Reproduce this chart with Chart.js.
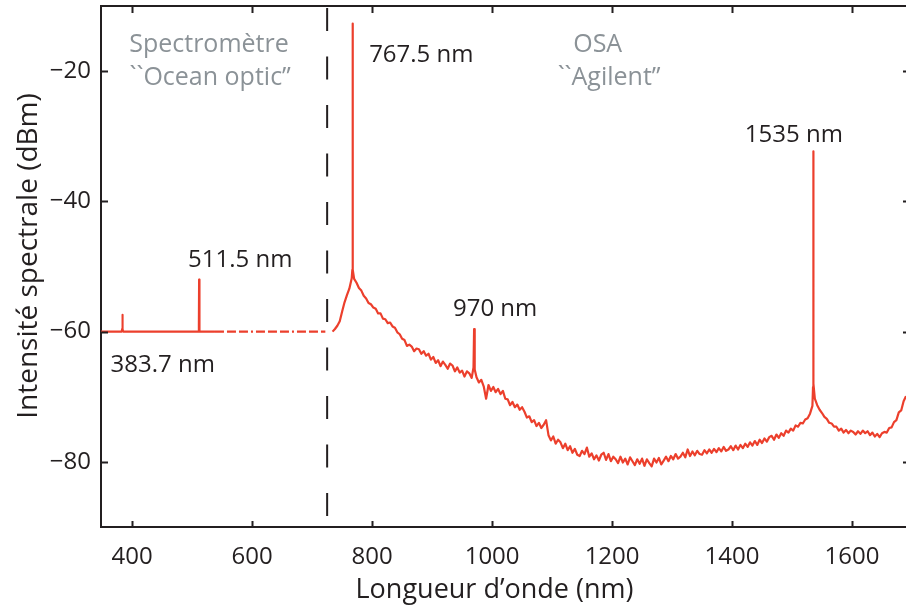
<!DOCTYPE html>
<html>
<head>
<meta charset="utf-8">
<script src="https://cdn.jsdelivr.net/npm/chart.js@4.4.1/dist/chart.umd.min.js"></script>
<style>
  html, body { margin: 0; padding: 0; background: #fff; overflow: hidden; }
</style>
</head>
<body>
<canvas id="myChart" width="906" height="609"></canvas>
<script>
// Axes
const xTicks = [400, 600, 800, 1000, 1200, 1400, 1600];
const yTicks = [-20, -40, -60, -80];

// Spectrometre "Ocean optic" (solid part)
const specWl  = [348, 382.5, 383.2, 383.7, 384.2, 385, 510.5, 511.1, 511.5, 511.9, 512.5, 538];
const specDbm = [-60, -60, -59.6, -57.4, -59.6, -60, -60, -59.2, -52.0, -59.2, -60, -60];

// noise floor extension (dashed)
const extWl  = [538, 722];
const extDbm = [-60, -60];

// OSA "Agilent" trace, sampled every 4 nm from 734 nm
const osaStart = 734;
const osaStep = 4;
const osaDbm = [
  -60.0, -59.6, -59.1, -58.4, -56.9, -55.5, -54.4, -53.4, -51.8, -51.9,
  -52.5, -53.3, -53.7, -54.5, -54.9, -55.6, -55.8, -56.3, -56.5, -57.2,
  -57.2, -58.0, -58.1, -58.7, -58.6, -59.2, -59.4, -60.1, -60.4, -61.1,
  -61.3, -62.2, -62.0, -62.3, -63.0, -62.6, -62.7, -63.4, -63.0, -63.7,
  -63.4, -64.3, -63.9, -64.8, -64.4, -65.3, -64.6, -65.1, -65.7, -64.9,
  -65.2, -66.1, -65.5, -66.3, -66.0, -66.9, -66.1, -66.4, -67.1, -59.6,
  -67.0, -67.8, -67.4, -68.4, -70.3, -68.2, -69.1, -68.5, -69.3, -68.8,
  -69.6, -69.1, -70.3, -70.4, -71.3, -70.8, -71.6, -71.2, -72.0, -71.6,
  -72.3, -73.2, -73.0, -73.9, -73.6, -74.5, -74.0, -74.8, -74.3, -73.6,
  -75.9, -76.7, -76.1, -77.2, -76.6, -77.0, -77.9, -77.2, -78.2, -77.6,
  -78.6, -78.0, -78.9, -79.1, -78.3, -78.8, -77.8, -79.2, -78.7, -79.6,
  -79.0, -79.8, -78.9, -78.6, -79.7, -78.8, -79.9, -79.2, -79.6, -80.2,
  -79.2, -80.1, -79.5, -80.4, -79.3, -79.9, -80.5, -79.6, -80.3, -79.5,
  -80.6, -79.6, -80.2, -80.7, -79.5, -80.1, -79.4, -80.4, -79.8, -79.2,
  -79.9, -79.1, -79.6, -78.8, -79.5, -79.2, -78.6, -79.3, -78.1, -79.1,
  -78.4, -79.0, -78.3, -78.8, -78.9, -78.2, -78.7, -78.1, -78.6, -78.0,
  -78.5, -77.9, -78.4, -77.7, -78.3, -78.1, -77.6, -78.2, -77.5, -78.1,
  -77.4, -77.9, -77.2, -77.7, -77.0, -77.5, -76.8, -77.4, -76.6, -77.1,
  -76.4, -76.9, -76.2, -76.0, -76.6, -75.8, -76.3, -75.6, -76.0, -75.2,
  -75.5, -74.9, -75.2, -74.4, -74.6, -74.0, -74.1, -73.5, -73.3, -72.6,
  -71.4, -70.3, -71.3, -72.0, -72.5, -73.1, -73.4, -74.0, -74.1, -74.6,
  -74.6, -75.2, -74.9, -75.5, -75.1, -75.6, -75.2, -75.4, -75.8, -75.3,
  -75.7, -75.2, -75.6, -75.3, -75.9, -75.5, -76.1, -75.7, -76.2, -75.6,
  -75.4, -75.5, -74.8, -74.7, -73.9, -73.6, -72.4, -72.1, -70.7, -69.9
];
// narrow laser lines on the OSA trace
const osaPeakWl  = [767.0, 767.2, 767.5, 767.8, 768.1, 969, 971, 1535.0, 1535.2, 1535.5, 1535.8, 1536.1];
const osaPeakDbm = [-50.5, -35, -12.7, -35, -50.5, -65.5, -65.8, -68.5, -55, -32.3, -55, -68.0];

// separation between the two instruments
const dividerWl = 725;

// text labels
const labelText = ['767.5 nm', '511.5 nm', '383.7 nm', '970 nm', '1535 nm',
                   'Spectromètre', '``Ocean optic\u201D', 'OSA', '``Agilent\u201D'];
const labelWl   = [882, 580, 451, 1005, 1503, 528, 530, 1176, 1195];
const labelDbm  = [-17.5, -49.0, -65.1, -56.6, -29.8, -16.0, -21.0, -16.0, -21.0];
const labelGray = [false, false, false, false, false, true, true, true, true];

const red = '#ec3f2c';
const ink = '#231f20';
const gray = '#8b9297';
const fontFamily = '"Open Sans", "Noto Sans", sans-serif';

let osaPoints = osaDbm.map((v, i) => ({x: osaStart + i * osaStep, y: v}));
osaPeakWl.forEach((w, i) => osaPoints.push({x: w, y: osaPeakDbm[i]}));
osaPoints.sort((a, b) => a.x - b.x);

const framePlugin = {
    id: 'frame',
    afterDraw(chart) {
        const {ctx, chartArea: a, scales: {x, y}} = chart;
        ctx.save();
        ctx.strokeStyle = ink;
        ctx.lineWidth = 2;
        ctx.beginPath();
        ctx.moveTo(a.left, a.top);
        ctx.lineTo(a.right + 2, a.top);
        xTicks.forEach(v => {
            const px = Math.round(x.getPixelForValue(v)) + 0.5;
            ctx.moveTo(px, a.bottom);
            ctx.lineTo(px, a.bottom - 6);
            ctx.moveTo(px, a.top);
            ctx.lineTo(px, a.top + 7);
        });
        yTicks.forEach(v => {
            const py = Math.round(y.getPixelForValue(v)) + 0.5;
            ctx.moveTo(a.left, py);
            ctx.lineTo(a.left + 7, py);
            ctx.moveTo(a.right + 2, py);
            ctx.lineTo(a.right - 3, py);
        });
        ctx.stroke();

        ctx.textAlign = 'center';
        ctx.textBaseline = 'middle';
        labelText.forEach((t, i) => {
            ctx.font = (labelGray[i] ? '25px ' : '24px ') + fontFamily;
            ctx.fillStyle = labelGray[i] ? gray : ink;
            ctx.fillText(t, x.getPixelForValue(labelWl[i]), y.getPixelForValue(labelDbm[i]));
        });
        ctx.restore();
    }
};

const ctx = document.getElementById('myChart').getContext('2d');
const chart = new Chart(ctx, {
    type: 'line',
    data: {
        datasets: [{
            label: 'Spectromètre',
            data: specWl.map((w, i) => ({x: w, y: specDbm[i]})),
            borderColor: red,
            borderWidth: 2.1
        }, {
            label: 'plancher',
            data: extWl.map((w, i) => ({x: w, y: extDbm[i]})),
            borderColor: red,
            borderWidth: 2.2,
            borderDash: [9, 3, 9, 3, 9, 3, 2, 3]
        }, {
            label: 'OSA',
            data: osaPoints,
            borderColor: red,
            borderWidth: 2.2
        }, {
            label: 'separation',
            data: [{x: dividerWl, y: -10}, {x: dividerWl, y: -90}],
            borderColor: ink,
            borderWidth: 2,
            borderDash: [23, 25.5],
            borderDashOffset: -2
        }]
    },
    options: {
        responsive: false,
        animation: false,
        devicePixelRatio: 1,
        parsing: false,
        elements: {
            point: { radius: 0 },
            line: { tension: 0, borderJoinStyle: 'round' }
        },
        layout: { padding: { top: 6, right: 0, left: 0, bottom: 0 } },
        plugins: {
            legend: { display: false },
            tooltip: { enabled: false }
        },
        scales: {
            x: {
                type: 'linear',
                min: 348,
                max: 1690,
                afterFit(scale) {
                    scale.height = 82;
                    scale.paddingLeft = 0;
                    scale.paddingRight = 0;
                },
                afterBuildTicks(scale) { scale.ticks = xTicks.map(v => ({value: v})); },
                grid: { display: true, drawOnChartArea: false, drawTicks: false },
                border: { display: true, color: ink, width: 2 },
                ticks: {
                    padding: 16,
                    color: ink,
                    font: { family: fontFamily, size: 24 },
                    maxRotation: 0,
                    autoSkip: false,
                    callback: v => String(v)
                },
                title: {
                    display: true,
                    text: 'Longueur d\u2019onde (nm)\u2002\u2006',
                    color: ink,
                    font: { family: fontFamily, size: 27 },
                    padding: { top: 0, bottom: 2 }
                }
            },
            y: {
                type: 'linear',
                min: -90,
                max: -10,
                afterFit(scale) {
                    scale.width = 101;
                    scale.paddingTop = 0;
                    scale.paddingBottom = 0;
                },
                afterBuildTicks(scale) { scale.ticks = yTicks.map(v => ({value: v})); },
                grid: { display: true, drawOnChartArea: false, drawTicks: false },
                border: { display: true, color: ink, width: 2 },
                ticks: {
                    padding: 10,
                    color: ink,
                    font: { family: fontFamily, size: 24 },
                    callback: v => (v < 0 ? '\u2212' + Math.abs(v) : String(v))
                },
                title: {
                    display: true,
                    text: '\u2002\u2005Intensité spectrale (dBm)',
                    color: ink,
                    font: { family: fontFamily, size: 28 },
                    padding: { top: 12, bottom: 0 }
                }
            }
        }
    },
    plugins: [framePlugin]
});
</script>
</body>
</html>
